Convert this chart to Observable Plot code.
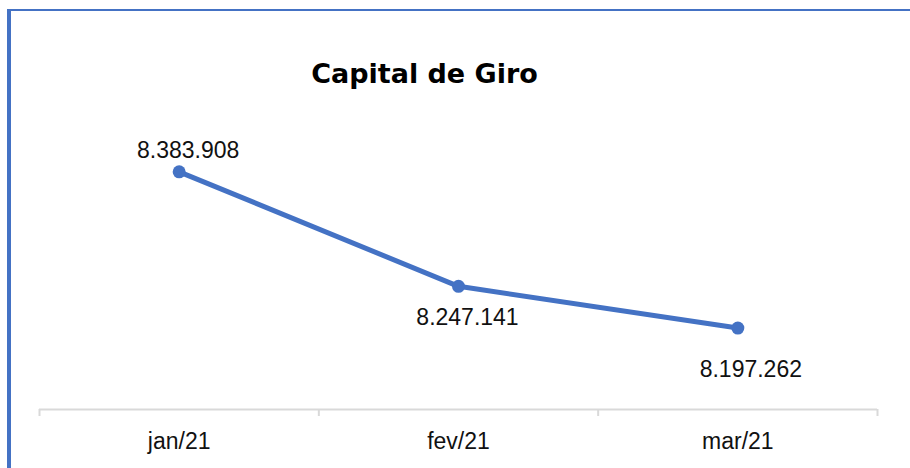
<!DOCTYPE html>
<html>
<head>
<meta charset="utf-8">
<script src="https://cdn.jsdelivr.net/npm/d3@7"></script>
<script src="https://cdn.jsdelivr.net/npm/@observablehq/plot@0.6"></script>
<style>
  html, body { margin: 0; padding: 0; background: #fff; }
  #wrap { position: relative; width: 910px; height: 468px; overflow: hidden; }
  #bl { position: absolute; left: 7px; top: 9px; width: 4px; height: 459px; background: #4472C4; }
  #bt { position: absolute; left: 7px; top: 9px; width: 903px; height: 2px; background: #4472C4; }
  #chart { position: absolute; left: 0; top: 0; }
</style>
</head>
<body>
<div id="wrap">
  <div id="chart"></div>
  <div id="bl"></div>
  <div id="bt"></div>
</div>
<script>
const title = "Capital de Giro";
const months = ["jan/21", "fev/21", "mar/21"];
const values = [8383908, 8247141, 8197262];
const labels = ["8.383.908", "8.247.141", "8.197.262"];
const yDomain = [8100000, 8450000];

const data = months.map((m, i) => ({month: m, pos: i + 0.5, value: values[i], label: labels[i]}));
const font = "'Liberation Sans', Arial, sans-serif";
const blue = "#4472C4";

const labelMark = (i, dx, dy) => Plot.text([data[i]], {
  x: "pos", y: "value", text: "label", dx, dy,
  lineAnchor: "bottom", fontSize: 23, fontFamily: font, fill: "#111"
});

const chart = Plot.plot({
  width: 910,
  height: 468,
  marginLeft: 39,
  marginRight: 33,
  marginTop: 116,
  marginBottom: 59,
  style: {background: "transparent", overflow: "visible"},
  x: {domain: [0, months.length], axis: null},
  y: {domain: yDomain, axis: null},
  marks: [
    Plot.ruleY([yDomain[0]], {stroke: "#d9d9d9", strokeWidth: 2}),
    Plot.axisX(d3.range(months.length + 1), {
      tickSize: 7, tickFormat: () => "", stroke: "#d9d9d9", strokeWidth: 2, label: null
    }),
    Plot.axisX(data.map(d => d.pos), {
      tickSize: 0, tickPadding: 23, tickFormat: p => months[Math.floor(p)],
      fontSize: 23, fontFamily: font, fill: "#111", label: null
    }),
    Plot.line(data, {x: "pos", y: "value", stroke: blue, strokeWidth: 5, strokeLinecap: "round"}),
    Plot.dot(data, {x: "pos", y: "value", r: 6.5, fill: blue, stroke: "none"}),
    labelMark(0, 9, -14),
    labelMark(1, 9, 39),
    labelMark(2, 13, 49),
    Plot.text([title], {
      frameAnchor: "top", dx: -34, dy: -34, lineAnchor: "bottom",
      fontSize: 27, fontWeight: "bold", fontFamily: "'DejaVu Sans', sans-serif", fill: "#000"
    })
  ]
});
document.getElementById("chart").appendChild(chart);
</script>
</body>
</html>
